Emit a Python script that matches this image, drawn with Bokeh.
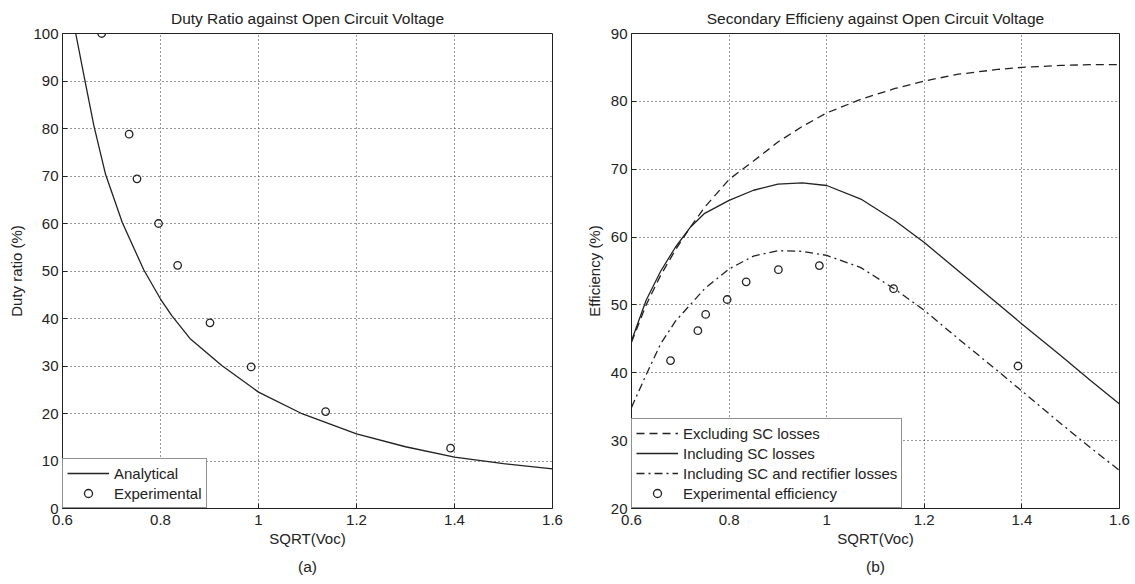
from bokeh.plotting import figure
from bokeh.layouts import row
from bokeh.models import (FixedTicker, Legend, LegendItem, Range1d,
                          Title, CustomJSTickFormatter)
from bokeh.embed import file_html
from bokeh.resources import INLINE

FONT = "Liberation Sans"
INK = "#222222"

# ---------------- data ----------------
x_ticks = [0.6, 0.8, 1.0, 1.2, 1.4, 1.6]
duty_ticks = [0, 10, 20, 30, 40, 50, 60, 70, 80, 90, 100]
eff_ticks = [20, 30, 40, 50, 60, 70, 80, 90]

voc_exp = [0.68, 0.736, 0.752, 0.796, 0.835, 0.901, 0.985, 1.137, 1.392]
duty_exp = [100, 78.8, 69.4, 60.0, 51.2, 39.1, 29.8, 20.4, 12.7]
eff_exp = [41.8, 46.2, 48.6, 50.8, 53.4, 55.2, 55.8, 52.4, 41.0]

voc_duty = [0.627, 0.641, 0.654, 0.664, 0.688, 0.722, 0.766, 0.800, 0.823,
            0.86, 0.925, 1.0, 1.09, 1.2, 1.3, 1.4, 1.5, 1.6]
duty_analytical = [100, 92.6, 85.8, 80.6, 70.3, 60.2, 50.2, 44.1, 40.6,
                   35.8, 30.1, 24.5, 19.9, 15.7, 13.0, 10.8, 9.45, 8.35]

voc_eff = [0.6, 0.63, 0.66, 0.69, 0.72, 0.75, 0.8, 0.85, 0.9, 0.95, 1.0,
           1.07, 1.14, 1.2, 1.27, 1.35, 1.4, 1.48, 1.54, 1.6]
eff_excl = [44.5, 50.0, 54.4, 58.1, 61.4, 64.4, 68.5, 71.2, 74.0, 76.3, 78.3,
            80.3, 81.9, 83.0, 84.0, 84.7, 85.0, 85.3, 85.4, 85.4]
eff_incl = [44.7, 50.7, 55.0, 58.5, 61.4, 63.5, 65.4, 66.9, 67.8, 68.0, 67.6,
            65.6, 62.4, 59.2, 55.0, 50.2, 47.2, 42.5, 38.9, 35.4]
eff_rect = [34.9, 39.7, 44.3, 47.6, 50.0, 52.4, 55.3, 57.2, 58.0, 57.9, 57.3,
            55.5, 52.3, 49.2, 45.0, 40.3, 37.3, 32.5, 29.0, 25.6]

fmt = CustomJSTickFormatter(code="return (Math.round(tick*10)/10).toString();")


def make_fig(width, bl, br, title, xlab, ylab, yr, yticks, sub):
    p = figure(width=width, height=584, x_range=Range1d(0.6, 1.6), y_range=Range1d(*yr),
               output_backend="svg", toolbar_location=None,
               min_border_left=bl, min_border_right=br, min_border_top=33,
               min_border_bottom=76, title=title)
    p.title.text_font = FONT
    p.title.text_font_size = "15.5px"
    p.title.text_font_style = "normal"
    p.title.text_color = INK
    p.title.align = "center"
    p.title.standoff = 13
    p.outline_line_color = INK
    p.outline_line_width = 1
    p.background_fill_color = "white"
    p.border_fill_color = "white"

    p.xaxis.ticker = FixedTicker(ticks=x_ticks)
    p.xaxis.formatter = fmt
    p.yaxis.ticker = FixedTicker(ticks=yticks)
    for ax in (p.xaxis[0], p.yaxis[0]):
        ax.axis_line_color = None
        ax.major_tick_in = 5
        ax.major_tick_out = 0
        ax.minor_tick_in = 0
        ax.minor_tick_out = 0
        ax.major_tick_line_color = INK
        ax.major_label_text_font = FONT
        ax.major_label_text_font_size = "15px"
        ax.major_label_text_color = INK
        ax.axis_label_text_font = FONT
        ax.axis_label_text_font_size = "15px"
        ax.axis_label_text_font_style = "normal"
        ax.axis_label_text_color = INK
    p.xaxis.axis_label = xlab
    p.xaxis.major_label_standoff = 6
    p.xaxis.axis_label_standoff = 2
    p.yaxis.axis_label = ylab
    p.yaxis.major_label_standoff = 4
    p.yaxis.axis_label_standoff = 5

    for g in (p.xgrid[0], p.ygrid[0]):
        g.grid_line_color = "#333333"
        g.grid_line_dash = "1 3"
        g.grid_line_width = 1
    p.xgrid.ticker = FixedTicker(ticks=x_ticks)
    p.ygrid.ticker = FixedTicker(ticks=yticks)

    p.add_layout(Title(text=sub, align="center", text_font=FONT, text_font_size="15.5px",
                       text_font_style="normal", text_color=INK, standoff=12), "below")
    return p


def make_legend(items):
    return Legend(items=items, location="bottom_left", margin=0, padding=4, spacing=0,
                  glyph_width=42, glyph_height=20, label_height=20, label_standoff=5,
                  label_text_font=FONT, label_text_font_size="15px", label_text_color=INK,
                  border_line_color=INK, border_line_width=1, background_fill_color="white",
                  background_fill_alpha=1)


# ---------------- left: duty ratio ----------------
p1 = make_fig(578, 62, 26, "Duty Ratio against Open Circuit Voltage", "SQRT(Voc)",
              "Duty ratio (%)", (0, 100), duty_ticks, "(a)")
l1 = p1.line(voc_duty, duty_analytical, line_color=INK, line_width=1.3)
s1 = p1.scatter(voc_exp, duty_exp, marker="circle", size=7.5, fill_color=None,
                line_color=INK, line_width=1.3)
p1.add_layout(make_legend([LegendItem(label="Analytical", renderers=[l1]),
                           LegendItem(label="Experimental", renderers=[s1])]))

# ---------------- right: efficiency ----------------
p2 = make_fig(557, 53, 16, "Secondary Efficieny against Open Circuit Voltage", "SQRT(Voc)",
              "Efficiency (%)", (20, 90), eff_ticks, "(b)")
a = p2.line(voc_eff, eff_excl, line_color=INK, line_width=1.3, line_dash="8 5")
b = p2.line(voc_eff, eff_incl, line_color=INK, line_width=1.3)
c = p2.line(voc_eff, eff_rect, line_color=INK, line_width=1.3, line_dash="8 4 2 4")
d = p2.scatter(voc_exp, eff_exp, marker="circle", size=7.5, fill_color=None,
               line_color=INK, line_width=1.3)
p2.add_layout(make_legend([LegendItem(label="Excluding SC losses", renderers=[a]),
                           LegendItem(label="Including SC losses", renderers=[b]),
                           LegendItem(label="Including SC and rectifier losses", renderers=[c]),
                           LegendItem(label="Experimental efficiency", renderers=[d])]))

layout = row(p1, p2)
open("out.html", "w").write(file_html(layout, INLINE))
